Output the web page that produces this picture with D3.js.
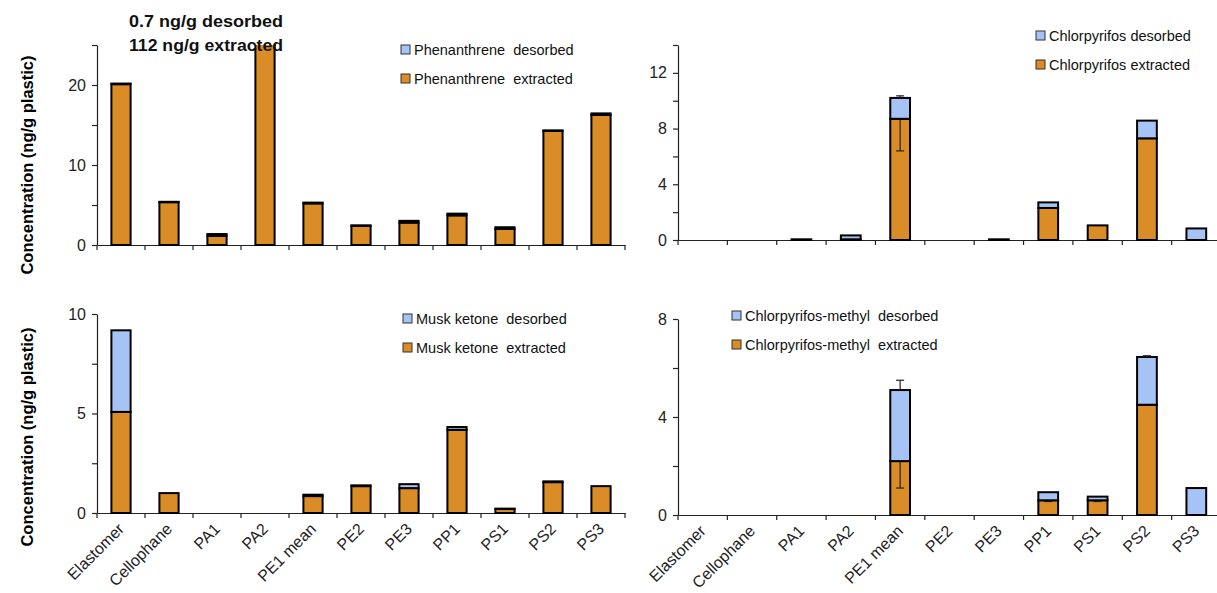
<!DOCTYPE html>
<html><head><meta charset="utf-8">
<script src="https://cdn.jsdelivr.net/npm/d3@7"></script>
<style>
body{margin:0;background:#fff}
svg{display:block}
text{font-family:"Liberation Sans",Arial,sans-serif}
</style>
</head><body>
<svg id="chart" width="1217" height="593"></svg>
<script>
// ---- data ----
const categories = ["Elastomer","Cellophane","PA1","PA2","PE1 mean","PE2","PE3","PP1","PS1","PS2","PS3"];

const phenExtracted = [20.1, 5.35, 1.15, 112, 5.2, 2.4, 2.8, 3.7, 2.0, 14.25, 16.25];
const phenDesorbed  = [0.08, 0.05, 0.22, 0.7, 0.1, 0.05, 0.22, 0.22, 0.22, 0.08, 0.2];

const chlorExtracted = [0, 0, 0.05, 0.05, 8.7, 0, 0.05, 2.3, 1.05, 7.3, 0];
const chlorDesorbed  = [0, 0, 0, 0.28, 1.5, 0, 0, 0.4, 0, 1.27, 0.83];
const chlorExtErr    = [0, 0, 0, 0, 2.3, 0, 0, 0, 0, 0, 0];
const chlorDesErr    = [0, 0, 0, 0, 0.15, 0, 0, 0, 0, 0, 0];

const muskExtracted = [5.08, 1.0, 0, 0, 0.85, 1.35, 1.25, 4.18, 0.2, 1.55, 1.35];
const muskDesorbed  = [4.1, 0, 0, 0, 0.07, 0.04, 0.2, 0.14, 0.02, 0.04, 0];

const cmExtracted = [0, 0, 0, 0, 2.2, 0, 0, 0.6, 0.6, 4.5, 0];
const cmDesorbed  = [0, 0, 0, 0, 2.9, 0, 0, 0.33, 0.15, 1.95, 1.1];
const cmExtErr    = [0, 0, 0, 0, 1.1, 0, 0, 0.05, 0.05, 0, 0];
const cmDesErr    = [0, 0, 0, 0, 0.4, 0, 0, 0, 0, 0.05, 0];

const zeros = categories.map(() => 0);

const yTitle = "Concentration (ng/g plastic)";
const annotationLines = ["0.7 ng/g desorbed", "112 ng/g extracted"];

// ---- styles ----
const ORANGE = "#DA8C26";
const BLUE = "#A6C3F5";

const svg = d3.select("#chart");

const panels = [
  {id:"tl", x0:97, x1:625, yZero:245, yTop:45, max:25, step:5, labelStep:10,
   ext:phenExtracted, des:phenDesorbed, extErr:zeros, desErr:zeros,
   legend:["Phenanthrene  desorbed","Phenanthrene  extracted"], lx:401, ly:[55,84],
   xLabels:false},
  {id:"tr", x0:678, x1:1221, yZero:240, yTop:45, max:14, step:2, labelStep:4,
   ext:chlorExtracted, des:chlorDesorbed, extErr:chlorExtErr, desErr:chlorDesErr,
   legend:["Chlorpyrifos desorbed","Chlorpyrifos extracted"], lx:1036, ly:[41,70],
   xLabels:false},
  {id:"bl", x0:97, x1:625, yZero:513, yTop:314, max:10, step:2.5, labelStep:5,
   ext:muskExtracted, des:muskDesorbed, extErr:zeros, desErr:zeros,
   legend:["Musk ketone  desorbed","Musk ketone  extracted"], lx:403, ly:[324,353],
   xLabels:true},
  {id:"br", x0:678, x1:1221, yZero:515, yTop:319, max:8, step:2, labelStep:4,
   ext:cmExtracted, des:cmDesorbed, extErr:cmExtErr, desErr:cmDesErr,
   legend:["Chlorpyrifos-methyl  desorbed","Chlorpyrifos-methyl  extracted"], lx:732, ly:[321,350],
   xLabels:true}
];

panels.forEach(p => {
  const x = d3.scaleBand().domain(categories).range([p.x0, p.x1]).padding(0);
  const y = d3.scaleLinear().domain([0, p.max]).range([p.yZero, p.yTop]);
  const bw = x.bandwidth() * 0.4;
  const g = svg.append("g");

  g.append("clipPath").attr("id", "clip-" + p.id)
    .append("rect").attr("x", p.x0 - 10).attr("y", p.yTop)
    .attr("width", p.x1 - p.x0 + 20).attr("height", p.yZero - p.yTop + 10);

  // y axis
  const ticks = d3.range(0, p.max + 1e-9, p.step);
  const yAxis = d3.axisLeft(y).tickValues(ticks).tickSize(5).tickSizeOuter(0)
    .tickPadding(6)
    .tickFormat(d => (Math.abs(d / p.labelStep - Math.round(d / p.labelStep)) < 1e-9) ? d3.format("d")(d) : "");
  const ya = g.append("g").attr("transform", `translate(${p.x0},0)`).call(yAxis);
  ya.select(".domain").attr("stroke", "#222").attr("stroke-width", 1.2);
  ya.selectAll(".tick line").attr("stroke", "#222").attr("stroke-width", 1.2);
  ya.selectAll(".tick text").attr("font-size", 16).attr("fill", "#222")
    .attr("font-family", "'Liberation Sans', Arial, sans-serif");

  // x axis (ticks at band boundaries)
  const xAxis = d3.axisBottom(x).tickSize(0).tickSizeOuter(0).tickFormat(p.xLabels ? (d => d) : () => "");
  const xa = g.append("g").attr("transform", `translate(0,${p.yZero})`).call(xAxis);
  xa.select(".domain").attr("stroke", "#222").attr("stroke-width", 1.2);
  xa.selectAll(".tick text")
    .attr("font-size", 16).attr("fill", "#222")
    .attr("font-family", "'Liberation Sans', Arial, sans-serif")
    .attr("text-anchor", "end")
    .attr("dy", null).attr("y", 0)
    .attr("transform", "translate(4,17) rotate(-45)");
  const bounds = categories.map(c => x(c)).concat([p.x1]);
  g.append("g").selectAll("line").data(bounds).join("line")
    .attr("x1", d => d).attr("x2", d => d)
    .attr("y1", p.yZero).attr("y2", p.yZero + 5)
    .attr("stroke", "#222").attr("stroke-width", 1.2);

  // bars
  const bars = g.append("g").attr("clip-path", `url(#clip-${p.id})`);
  categories.forEach((c, i) => {
    const cx = x(c) + x.bandwidth() / 2;
    const e = p.ext[i], d = p.des[i];
    if (e > 0) {
      bars.append("rect").attr("x", cx - bw / 2).attr("width", bw)
        .attr("y", y(e)).attr("height", y(0) - y(e))
        .attr("fill", ORANGE).attr("stroke", "#000").attr("stroke-width", 2);
      if (p.extErr[i] > 0) {
        const ye = y(e - p.extErr[i]);
        bars.append("line").attr("x1", cx).attr("x2", cx).attr("y1", y(e)).attr("y2", ye)
          .attr("stroke", "#222").attr("stroke-width", 1.2);
        bars.append("line").attr("x1", cx - 4).attr("x2", cx + 4).attr("y1", ye).attr("y2", ye)
          .attr("stroke", "#222").attr("stroke-width", 1.2);
      }
    }
    if (d > 0) {
      bars.append("rect").attr("x", cx - bw / 2).attr("width", bw)
        .attr("y", y(e + d)).attr("height", y(e) - y(e + d))
        .attr("fill", BLUE).attr("stroke", "#000").attr("stroke-width", 2);
      if (p.desErr[i] > 0) {
        const yt = y(e + d + p.desErr[i]);
        bars.append("line").attr("x1", cx).attr("x2", cx).attr("y1", y(e + d)).attr("y2", yt)
          .attr("stroke", "#222").attr("stroke-width", 1.2);
        bars.append("line").attr("x1", cx - 4).attr("x2", cx + 4).attr("y1", yt).attr("y2", yt)
          .attr("stroke", "#222").attr("stroke-width", 1.2);
      }
    }
  });

  // legend
  const colors = [BLUE, ORANGE];
  p.legend.forEach((t, k) => {
    g.append("rect").attr("x", p.lx).attr("y", p.ly[k] - 10).attr("width", 9).attr("height", 9)
      .attr("fill", colors[k]).attr("stroke", "#333").attr("stroke-width", 1);
    g.append("text").attr("x", p.lx + 13).attr("y", p.ly[k])
      .attr("font-size", 14.5).attr("fill", "#111").style("white-space", "pre").text(t);
  });
});

// y axis titles
[165, 437].forEach(cy => {
  svg.append("text").attr("transform", `translate(33,${cy}) rotate(-90)`)
    .attr("text-anchor", "middle").attr("font-size", 16.5).attr("font-weight", "bold")
    .attr("fill", "#000").text(yTitle);
});

// annotation for clipped PA2 bar
annotationLines.forEach((t, k) => {
  svg.append("text").attr("x", 129).attr("y", 27 + k * 24)
    .attr("font-family", "'Open Sans', sans-serif")
    .attr("font-size", 17).attr("font-weight", "bold").attr("fill", "#111")
    .attr("textLength", 154).attr("lengthAdjust", "spacingAndGlyphs").text(t);
});
</script>
</body></html>
